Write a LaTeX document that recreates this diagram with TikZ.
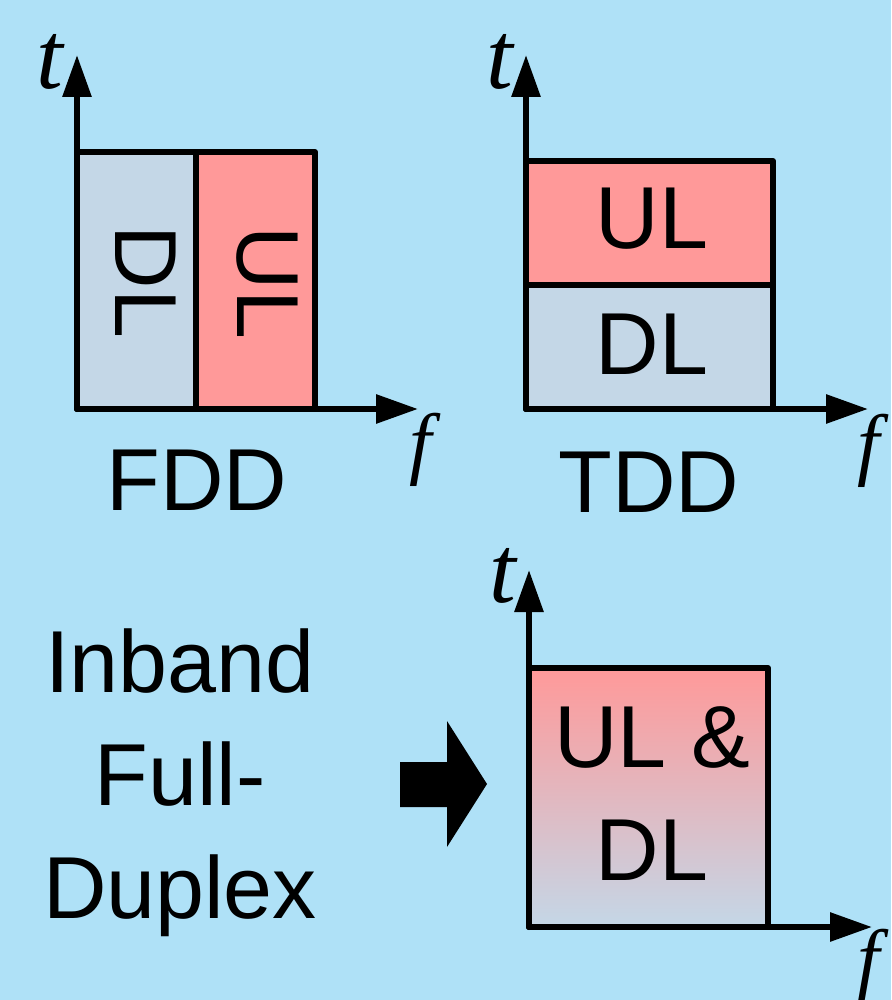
\documentclass[tikz,border=0pt]{standalone}
\usepackage{fontspec}
\setsansfont{Liberation Sans}
\newfontfamily\varfont{Liberation Serif}
\usetikzlibrary{arrows.meta}
\definecolor{bgcol}{RGB}{175,225,247}
\definecolor{dlcol}{RGB}{196,215,231}
\definecolor{ulcol}{RGB}{255,153,153}
\tikzset{
  axis/.style={line width=6pt, line cap=round, -{Triangle[length=42pt,width=28pt]}},
  cellbox/.style={draw=black, line width=6pt, line join=round},
  lbl/.style={font=\sffamily\fontsize{88}{113}\selectfont, inner sep=0pt, text=black},
  varlbl/.style={font=\varfont\itshape\fontsize{#1}{#1}\selectfont, inner sep=0pt},
}
\begin{document}
\begin{tikzpicture}[x=1pt,y=-1pt]
\fill[bgcol] (0,0) rectangle (891,1000);
\useasboundingbox (0,0) rectangle (891,1000);

% ---------- FDD ----------
\coordinate (fo) at (77,409);
\coordinate (ft) at (77,55);
\coordinate (ff) at (418,409);
\filldraw[cellbox, fill=dlcol] (77,152) rectangle (196,409);
\filldraw[cellbox, fill=ulcol] (196,152) rectangle (315,409);
\node[lbl, rotate=-90] (fdl) at (146,282) {DL};
\node[lbl, rotate=-90] (ful) at (267,283) {UL};
\draw[axis] (fo) -- (ft);
\draw[axis] (fo) -- (ff);
\node[varlbl=96] (fdt) at (50,62) {t};
\node[varlbl=80] (fdf) at (421,450) {f};
\node[lbl] (fdd) at (197,480) {FDD};

% ---------- TDD ----------
\coordinate (to) at (526,409);
\coordinate (tt) at (526,55);
\coordinate (tf) at (868,409);
\filldraw[cellbox, fill=ulcol] (526,161) rectangle (773,285);
\filldraw[cellbox, fill=dlcol] (526,285) rectangle (773,409);
\node[lbl] (tul) at (652,219) {UL};
\node[lbl] (tdl) at (652,344) {DL};
\draw[axis] (to) -- (tt);
\draw[axis] (to) -- (tf);
\node[varlbl=96] (tdt) at (500,62) {t};
\node[varlbl=80] (tdf) at (869,451) {f};
\node[lbl] (tdd) at (649,482) {TDD};

% ---------- Inband full duplex ----------
\coordinate (io) at (529,927);
\coordinate (it) at (529,570);
\coordinate (iff) at (872,927);
\shade[top color=ulcol, bottom color=dlcol] (529,668) rectangle (768,927);
\draw[cellbox] (529,668) rectangle (768,927);
\node[lbl] (iul) at (652,737) {UL \&};
\node[lbl] (idl) at (652,850) {DL};
\draw[axis] (io) -- (it);
\draw[axis] (io) -- (iff);
\node[varlbl=96] (ift) at (503,576) {t};
\node[varlbl=80] (iff2) at (869,966) {f};

\node[lbl, align=center] (ibfd) at (180,783) {Inband\\Full-\\Duplex};

% block arrow
\fill[black] (400,762) -- (447,762) -- (447,721) -- (487,784) -- (447,847) -- (447,807) -- (400,807) -- cycle;
\end{tikzpicture}
\end{document}
